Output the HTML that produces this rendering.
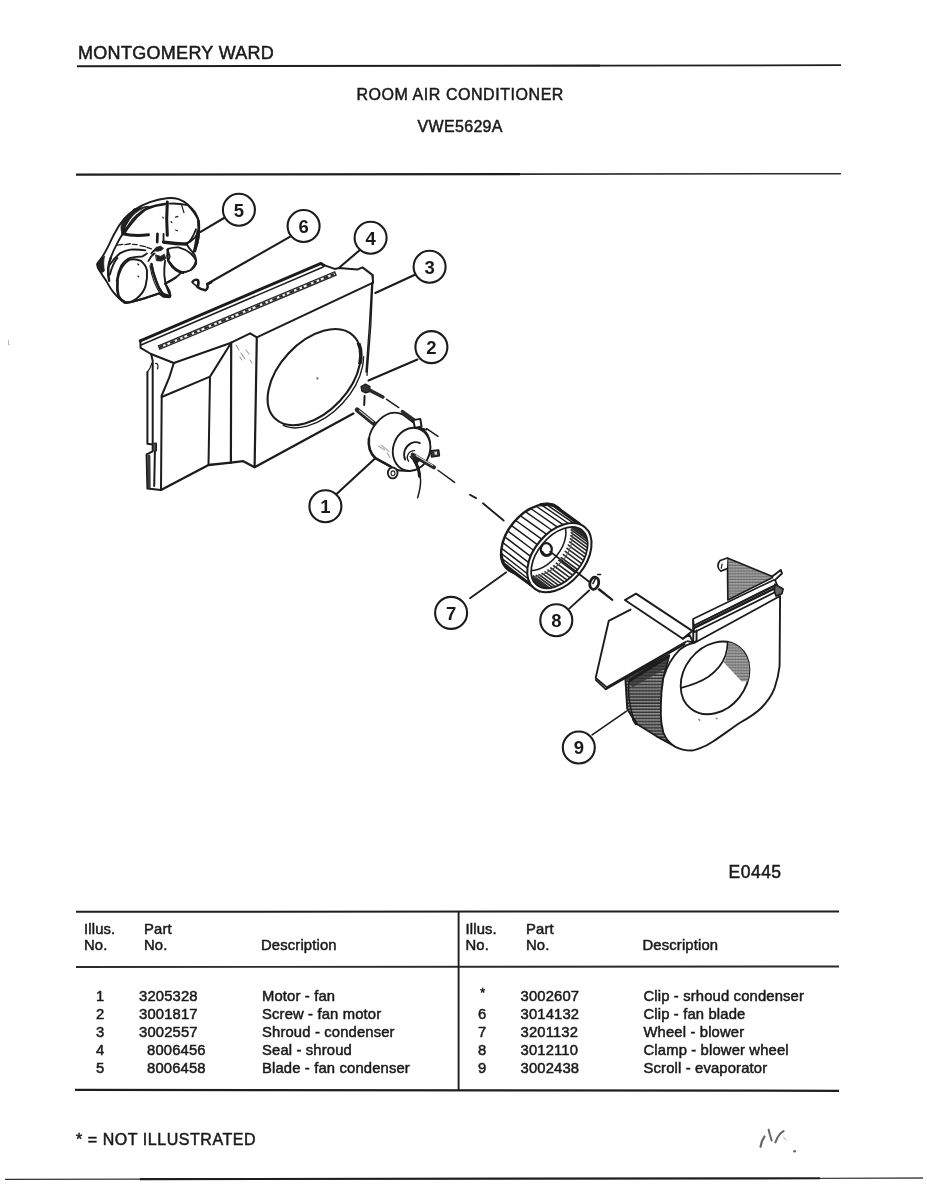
<!DOCTYPE html>
<html><head><meta charset="utf-8">
<style>
html,body{margin:0;padding:0;background:#fff;}
body{width:927px;height:1200px;position:relative;overflow:hidden;font-family:"Liberation Sans",sans-serif;color:#1a1a1a;}
.t{position:absolute;white-space:nowrap;line-height:1;letter-spacing:.15px;-webkit-text-stroke:.5px #1a1a1a;}
.hl{position:absolute;background:#222;height:2px;}
.vl{position:absolute;background:#222;width:2px;}
svg{position:absolute;left:0;top:0;filter:blur(.35px);}
.t{filter:blur(.3px);}
</style></head><body>
<!-- header -->
<div class="t" id="mw" style="left:78px;top:44px;font-size:18px;letter-spacing:.3px;">MONTGOMERY WARD</div>
<div class="t" id="rac" style="left:356.5px;top:87px;font-size:16px;letter-spacing:.55px;">ROOM AIR CONDITIONER</div>
<div class="t" id="vwe" style="left:417.5px;top:118.5px;font-size:16px;letter-spacing:.33px;">VWE5629A</div>
<!-- DIAGRAM -->
<svg id="dg" width="927" height="1200" viewBox="0 0 927 1200" fill="none" stroke="#1c1c1c" stroke-width="1.4" stroke-linecap="round" stroke-linejoin="round">

<!-- FAN (5) -->
<g id="fan" transform="translate(85,190) scale(0.151025)" stroke-width="12.5">
<path d="M620 60 C590 52 560 52 540 55 C500 60 460 70 430 80 C395 92 360 110 330 130 C305 148 280 168 260 190 C235 220 215 250 200 280 C180 315 165 350 150 380 C138 405 122 430 110 450 C98 465 85 478 80 490 C80 510 90 528 100 540 C112 560 125 580 140 600 C155 628 170 655 190 680 C210 705 235 730 260 745 C285 748 310 742 330 735 C355 730 378 722 400 715 C430 705 460 695 490 685 C505 690 518 697 530 700 L565 705 C565 692 563 680 560 670 C552 652 540 635 530 620 C555 607 580 595 600 580 C615 570 628 556 640 545 C662 545 682 540 700 530 C716 520 728 506 735 490 C738 472 735 455 730 440 C727 430 721 422 715 415 C728 395 738 372 745 350 C752 328 755 304 755 280 C757 256 757 232 755 210 C750 188 741 168 730 150 C716 130 699 111 680 95 C662 80 642 68 620 60 Z" fill="#fff"/>
<!-- ring inner arc -->
<path d="M530 90 C490 95 455 103 420 115 C390 130 363 148 340 170 C320 188 304 208 290 230 C275 250 262 270 250 290 C235 313 222 336 210 360 C194 390 180 420 170 450 C162 473 157 496 155 520 C154 548 156 575 160 600" />
<!-- left dark bump -->
<path d="M128 440 C105 455 85 475 80 492 C82 515 92 530 102 542 C112 548 122 545 128 535 C122 505 122 470 128 440Z" fill="#222" stroke-width="6"/>
<!-- ring dark thick parts -->
<path d="M330 132 C300 165 278 200 262 232 C255 250 250 270 252 288" stroke-width="22"/>
<path d="M250 290 C290 300 340 305 420 297" stroke-width="20"/>
<path d="M545 80 C540 150 540 230 545 300" stroke-width="20"/>
<path d="M520 345 C570 352 620 357 672 358" stroke-width="22"/>
<path d="M480 290 L478 345" stroke-width="18"/>
<path d="M520 290 L520 340" stroke-width="12"/>
<!-- top blade outline -->
<path d="M530 95 C480 100 440 112 400 130 C365 155 335 185 310 220 C290 243 275 265 260 290"/>
<!-- right blade -->
<path d="M560 90 C600 88 642 92 680 100 C710 130 735 163 750 200"/>
<path d="M755 280 C740 303 722 323 700 340 C688 347 674 352 660 355"/>
<path d="M735 260 C720 300 700 340 672 358 C685 380 700 400 715 415"/>
<path d="M745 270 C738 310 730 370 722 400"/>
<!-- lower right blade -->
<path d="M550 390 C572 382 596 379 620 380 C650 388 678 402 700 420 C716 434 729 450 735 470 C730 493 718 514 700 530 C682 540 662 545 640 545 C618 538 598 526 580 510 C564 492 552 472 545 450 C543 430 545 410 550 390Z" fill="#fff"/>
<path d="M560 480 C580 515 610 540 650 548" stroke-width="18"/>
<!-- hub blobs -->
<path d="M470 430 L500 440 L525 425 L535 455 L505 470 L475 468 Z" fill="#222" stroke-width="6"/>
<path d="M440 420 C455 400 475 385 500 380"/>
<path d="M420 470 C430 445 445 430 460 420"/>
<!-- lower-left blade ellipse -->
<path d="M240 520 C255 495 275 472 300 460 C325 455 350 460 370 470 C390 485 404 506 410 530 C414 568 410 605 400 640 C388 672 367 700 340 720 C320 735 296 745 270 745 C248 735 230 720 220 700 C212 668 211 634 215 600 C220 572 228 545 240 520Z" fill="#fff" stroke-width="13"/>
<!-- arcs around lower-left blade -->
<path d="M160 500 C180 470 203 442 230 420 C252 408 275 398 300 395 C333 393 367 395 400 400"/>
<path d="M210 600 C215 565 225 530 240 500 C256 478 276 460 300 450 C327 443 354 440 380 440 C392 435 402 428 410 420"/>
<path d="M165 560 C175 520 190 480 215 450" />
<path d="M215 365 L250 360 M265 362 L300 356 M315 360 L345 362 M365 368 L400 375 M410 380 L440 390" stroke-width="9"/>
<!-- bottom thin blade -->
<path d="M440 490 C446 528 456 565 470 600 C480 630 493 657 510 680 C525 690 542 697 560 700"/>
<path d="M530 470 C526 500 524 530 525 560 C527 588 532 615 540 640 C547 661 555 681 565 700"/>
<path d="M500 690 L520 705 L560 708" stroke-width="16"/>
<path d="M430 500 C440 560 460 630 495 680" stroke-width="8"/>
<path d="M640 100 L655 150 M600 180 L615 175 M600 265 L612 270 M570 210 L575 215 M350 490 L355 495 M350 570 L356 575 M515 180 L518 186" stroke-width="8"/>
<!-- extra darkness -->
<path d="M332 128 C300 150 275 175 255 200 C240 222 232 250 245 285 C262 245 285 205 315 170 C340 145 375 122 420 108 C390 112 358 118 332 128Z" fill="#222" stroke-width="6"/>
<path d="M750 205 C757 260 752 330 728 405" stroke-width="17"/>
<path d="M160 600 C150 560 150 500 170 450" stroke-width="15"/>
<path d="M440 490 C446 528 456 565 470 600 C480 630 493 657 510 680" stroke-width="16"/>
<path d="M455 400 L470 380 L500 372 L520 385 L505 400 L480 405Z" fill="#222" stroke-width="5"/>
<path d="M545 395 L560 440 L550 470" stroke-width="14"/>
<path d="M215 600 C212 640 214 672 222 702 C232 722 250 738 270 746" stroke-width="17"/>
<path d="M260 745 C285 748 310 742 330 735 C355 730 378 722 400 715 C430 705 460 695 490 685" stroke-width="14"/>
<path d="M530 620 C555 607 580 595 600 580" stroke-width="14"/>
<!-- clip 6 -->
<path d="M712 608 C720 595 738 590 748 598 C754 612 752 628 745 642 C760 654 780 662 798 664 C810 656 815 640 810 626 C818 618 828 614 835 612" stroke-width="17"/>
<path d="M742 640 C735 632 725 625 712 615" stroke-width="10"/>
</g>

<!-- SHROUD (3) -->
<g id="shroud" stroke-width="2">
<!-- top flange outer -->
<path d="M140.3 340.8 L321 263.4 L324 265.5" stroke-width="3"/><path d="M141 345 L323.2 267" stroke-width="1.5"/>
<path d="M140.3 340.4 L140.6 347.9 L151 354 L173.8 363"/>
<!-- seal strip 4 -->
<path d="M158.5 347.8 L336 273.2" stroke="#262626" stroke-width="5" stroke-linecap="butt"/>
<path d="M160 347.2 L334.5 273.8" stroke="#f4f4f4" stroke-width="2.2" stroke-linecap="butt"/>
<path d="M160 347.2 L334.5 273.8" stroke="#2a2a2a" stroke-width="2.2" stroke-dasharray="3.5 2.5 2 3 5 2.5" stroke-linecap="butt"/>
<!-- top right of flange -->
<path d="M324 265.1 L334.6 268.9 L339.1 268.1 L357.2 269.6 L362.5 267.4 L372.3 274.9 L373.1 282.5"/>
<!-- flange front bottom edge -->
<path d="M173.8 363 L231.2 342.7 L250.1 333.3 L256.8 337.3 L372.6 282.9"/>
<!-- right edge double -->
<path d="M373.1 275 L370.8 325.5 L367 375.4 M371.8 283 L369.4 325 L366 372" stroke-width="1.3"/>
<path d="M364.6 396 L364.2 405" />
<!-- left panel -->
<path d="M173.8 363 L169.3 377.4 L161.7 395.5 L161 489.9"/>
<path d="M161.7 397 L210 376.6 L231.2 342.7 M210 376.6 L208.5 465"/>
<path d="M231.2 342.7 L230.9 462.7 M256.8 337.3 L254.6 467.2" stroke-width="2.2"/>
<path d="M161 489.9 L208.5 465 L230.9 462.7 L243.3 461.2 L254.6 467.2 L353.4 413.6" stroke-width="2.3"/>
<!-- bracket -->
<path d="M147.4 372.1 L147.4 443.8 L152.7 444.6 L152.7 451.4 L146.6 454.4 L147.4 488.4 L161 489.9"/>
<path d="M151.1 354 L152.7 360.8 L152.7 443.8 M154.9 451.4 L154.2 486.1"/>
<path d="M147.4 372.1 L150 368 L152 363" stroke-width="1.2"/>
<path d="M155.5 363.5 C158 363 158.5 366 157.5 369" stroke-width="1.2"/>
<path d="M154.5 443 L156.5 443 L156.5 451 L154.5 451Z" fill="#333" stroke-width="1"/>
<path d="M148.9 456 L149.2 487" stroke-width="3" stroke="#3a3a3a"/>
<!-- opening ellipse -->
<ellipse cx="314.2" cy="377.1" rx="57" ry="35" transform="rotate(-47 314.2 377.1)" stroke-width="2.1"/>
<clipPath id="cpE"><path d="M366 354 L385 354 L385 440 L270 440 L284 424 Z"/></clipPath><g clip-path="url(#cpE)"><ellipse cx="316.4" cy="379.3" rx="57.5" ry="35.5" transform="rotate(-47 316.4 379.3)" stroke-width="1.4"/></g>
<clipPath id="cpE2"><rect x="352" y="343" width="14" height="21"/></clipPath><g clip-path="url(#cpE2)"><ellipse cx="314.2" cy="377.1" rx="57" ry="35" transform="rotate(-47 314.2 377.1)" stroke-width="3.6"/></g>
<circle cx="317.4" cy="378.4" r="1.1" fill="#666" stroke="none"/>
<!-- texture on column -->
<path d="M236 345 l3 5 m2 3 l4 6 m-5 -2 l2 3 m4 -10 l3 4 m1 6 l2 3" stroke="#888" stroke-width="1"/>
</g>

<!-- MOTOR (1) + SCREW (2) -->
<g id="motor" transform="translate(330,360) scale(0.151025)" stroke-width="12.5">
<!-- screw -->
<path d="M205 175 L235 160 L265 175 L262 210 L235 218 L210 205Z" fill="#333" stroke-width="8"/>
<path d="M262 200 L350 245" stroke-width="24" stroke="#2a2a2a"/>
<!-- dash axis -->
<path d="M375 260 L455 315 M640 455 L715 505 M715 730 L825 810" stroke-width="10"/>
<!-- rear shaft -->
<path d="M180 330 L290 420" stroke-width="32" stroke="#2a2a2a" stroke-linecap="round"/>
<path d="M195 335 L285 408" stroke-width="7" stroke="#ddd"/>
<!-- body -->
<path d="M400 352 C340 370 270 440 258 520 C250 580 270 620 300 650 L430 722 C500 750 600 730 650 640 C680 560 660 480 600 450 L480 360 C455 348 425 346 400 352Z" fill="#fff" stroke-width="12"/>
<ellipse cx="540" cy="592" rx="122" ry="145" transform="rotate(18 540 592)" fill="#fff"/>
<path d="M258 520 C250 580 270 620 300 650 L400 705" stroke-width="17"/>
<!-- hub -->
<path d="M498 660 C480 620 495 575 535 552 C555 542 578 542 595 550" stroke-width="12"/>
<path d="M520 670 C500 640 520 600 560 600" stroke-width="9"/>
<!-- front shaft -->
<path d="M548 628 L688 710" stroke-width="28" stroke="#2a2a2a"/>
<path d="M570 632 L680 698" stroke-width="7" stroke="#ddd"/>
<path d="M530 640 L570 690 L600 660 Z" fill="#222" stroke-width="6"/>
<!-- wire -->
<path d="M560 670 C585 700 598 750 600 800 C600 840 590 880 580 912" stroke-width="10"/>
<path d="M560 670 C580 700 590 730 593 770" stroke-width="20"/>
<!-- bracket tabs -->
<path d="M480 342 L560 400" stroke-width="24" stroke="#2a2a2a"/>
<path d="M552 398 L598 390 L606 440 L562 450Z" stroke-width="13" fill="#fff"/>
<path d="M665 600 L720 595 L725 635 L672 642Z" fill="#333" stroke-width="9"/>
<path d="M690 608 L708 606 L710 626 L694 628Z" fill="#ddd" stroke="none"/>
<ellipse cx="415" cy="748" rx="32" ry="36" stroke-width="12" fill="#fff"/>
<ellipse cx="417" cy="750" rx="13" ry="16" stroke-width="7"/>
<path d="M600 450 L640 462" stroke-width="10"/>
<path d="M320 570 l40 25 m-20 -30 l50 40 m-10 10 l15 30" stroke="#aaa" stroke-width="8"/>
<!-- shroud dashed vertical is in shroud group -->
</g>


<!-- BLOWER WHEEL (7) + CLAMP (8) -->
<g id="wheel" transform="translate(470,480) scale(0.1726)" stroke-width="10.5">
<path d="M0 85 L35 105 M75 135 L195 235 M745 635 L825 695" stroke-width="10.5"/>
<path d="M483 146 L634 256 L402 644 L251 534Z" fill="#fff" stroke-width="12"/>
<ellipse cx="367" cy="340" rx="230" ry="148" transform="rotate(-50 367 340)" fill="#fff" stroke-width="14"/>
<path d="M483 146 L634 256 L402 644 L251 534Z" fill="#fff" stroke="none"/>
<path d="M236 520 L383 635 M216 504 L363 619 M201 484 L347 598 M191 459 L337 572 M187 430 L332 543 M187 399 L333 511 M194 366 L339 477 M205 332 L351 442 M222 298 L368 407 M243 266 L390 374 M267 236 L415 343 M295 209 L444 315 M325 186 L475 291 M356 168 L507 273 M388 155 L539 259 M418 147 L571 252 M448 146 L601 250 " stroke-width="8.5"/>
<path d="M411 143 L450 140 L483 146 L634 256" stroke-width="20"/>
<path d="M251 534 L402 644" stroke-width="16"/>
<path d="M181 430 L185 459 L195 486 L210 507 L230 524 L251 534" stroke-width="18"/>
<ellipse cx="518" cy="450" rx="230" ry="148" transform="rotate(-50 518 450)" fill="#fff" stroke-width="12"/>
<clipPath id="cpW"><ellipse cx="518" cy="450" rx="206" ry="126" transform="rotate(-50 518 450)"/></clipPath>
<g clip-path="url(#cpW)">
<path d="M557 277 L462 207 M574 274 L479 204 M590 273 L495 203 M605 273 L510 203 M619 276 L524 206 M632 281 L537 211 M643 287 L548 217 M654 295 L559 225 M663 305 L568 235 M670 316 L575 246 M675 329 L580 259 M679 344 L584 274 M681 359 L586 289 M682 376 L587 306 M680 393 L585 323 M677 411 L582 341 M672 429 L577 359 M665 447 L570 377 M657 466 L562 396 M647 484 L552 414 M636 502 L541 432 M624 520 L529 450 M610 536 L515 466 M595 552 L500 482 M580 567 L485 497 M563 580 L468 510 M547 592 L452 522 M530 602 L435 532 M513 611 L418 541 M495 618 L400 548 M479 623 L384 553 M462 626 L367 556 M446 627 L351 557 M431 627 L336 557 M417 624 L322 554 M404 619 L309 549 M393 613 L298 543 " stroke-width="9.5" stroke="#2a2a2a"/>
<ellipse cx="420" cy="378" rx="172" ry="102" transform="rotate(-50 420 378)" fill="#fff" stroke-width="9"/>
<path d="M370 565 C430 550 500 515 555 445 C585 400 598 345 592 285" stroke-width="6" stroke="#555"/>
</g>
<ellipse cx="518" cy="450" rx="206" ry="126" transform="rotate(-50 518 450)" stroke-width="10"/>
<!-- hub -->
<ellipse cx="442" cy="402" rx="32" ry="36" stroke-width="13"/>
<path d="M418 418 C428 442 455 442 470 425" stroke-width="16"/>
<path d="M465 415 L690 590" stroke-width="10.5"/>
<!-- clamp -->
<ellipse cx="720" cy="598" rx="25" ry="36" transform="rotate(15 720 598)" stroke-width="16" fill="#fff"/>
<path d="M700 585 L715 560 M712 600 L728 570 M740 548 L757 548" stroke-width="9"/>
<path d="M690 640 L575 745" stroke-width="10.5"/>
<path d="M210 535 L0 685" stroke-width="10.5"/>
</g>

<defs>
<pattern id="hz" width="13" height="13" patternUnits="userSpaceOnUse"><rect width="13" height="13" fill="#b4b4b4"/><path d="M0 3.5H13" stroke="#2e2e2e" stroke-width="6"/><path d="M3 10h3M9 9v3" stroke="#555" stroke-width="2.5"/></pattern>
<pattern id="hz2" width="12" height="12" patternUnits="userSpaceOnUse"><rect width="12" height="12" fill="#cfcfcf"/><path d="M0 3H12" stroke="#5a5a5a" stroke-width="4.5"/><path d="M2 9h3M8 8v3" stroke="#777" stroke-width="2.5"/></pattern>
</defs>

<!-- SCROLL (9) -->
<g id="scroll" transform="translate(585,545) scale(0.237325)" stroke-width="8">
<!-- back triangle -->
<path d="M600 55 L602 232 L795 135 Z" fill="url(#hz2)" stroke-width="7"/>
<path d="M600 55 L570 65 C555 80 558 100 572 110 L598 100" stroke-width="7" fill="#fff"/>
<path d="M578 80 L574 98" stroke-width="5"/>
<!-- housing side (dark hatched) -->
<path d="M170 560 L355 465 L330 560 L320 700 L330 790 L385 852 L300 805 L215 752 L178 690 Z" fill="url(#hz)" stroke-width="8"/>
<path d="M172 562 L350 470 L340 520 L200 600 Z" fill="#333" stroke="none" opacity=".75"/>
<path d="M185 575 C180 620 185 670 205 735" stroke-width="6"/>
<path d="M215 752 L205 735" stroke-width="14"/>
<!-- housing front face -->
<path d="M462 412 L822 215 L820 510 C816 545 808 575 799 602 C785 640 762 668 737 692 C712 715 683 732 653 749 C615 775 578 802 541 827 C522 840 503 850 485 856 C470 862 460 866 450 866 C420 866 398 860 380 850 C356 836 340 815 330 790 C322 760 318 730 320 700 C318 655 322 608 330 560 C345 510 370 470 400 440 C420 425 440 415 462 412Z" fill="#fff" stroke-width="8"/>
<!-- opening -->
<ellipse cx="548" cy="560" rx="165" ry="131" transform="rotate(-52 548 560)" fill="#fff" stroke-width="8"/>
<clipPath id="cpS"><ellipse cx="548" cy="560" rx="165" ry="131" transform="rotate(-52 548 560)"/></clipPath>
<g clip-path="url(#cpS)">
<path d="M600 400 C605 440 598 470 585 495 L660 575 L720 570 L720 400Z" fill="url(#hz2)" stroke="none"/>
<path d="M405 602 C450 590 490 575 520 555 C555 530 580 500 592 465 C598 445 602 425 600 405" stroke-width="7"/>
</g>
<!-- top flange strip -->
<path d="M455 312 L800 145 L808 165 L458 340Z" fill="#fff" stroke-width="7"/>
<path d="M458 340 L810 168 L815 192 L460 368Z" fill="#fff" stroke-width="7"/>
<path d="M456 318 L456 410 L470 405 L470 360" stroke-width="8"/>
<path d="M458 350 L805 180" stroke-width="10"/>
<path d="M790 132 L825 105 L830 120 L800 148" stroke-width="8" fill="#fff"/>
<path d="M800 165 L835 185 L830 205 L805 215 L798 195Z" fill="#666" stroke-width="7"/>
<!-- strip -->
<path d="M168 232 L215 205 L452 362 L412 395 Z" fill="#fff" stroke-width="8"/>
<path d="M412 395 L440 378 L455 410 L432 405" stroke-width="8"/>
<!-- plate -->
<path d="M192 272 L100 320 L45 560 L92 600 L425 408" stroke-width="8"/>
<path d="M45 568 L88 608 L420 418" stroke-width="7"/>
<path d="M190 570 L350 470" stroke-width="12"/>
<!-- leader 9 -->
<path d="M175 700 L30 800" stroke-width="7"/>
<!-- axis dash -->
<path d="M60 185 L115 230" stroke-width="7"/>
<path d="M480 735 l3 3 m70 -8 l3 2" stroke-width="6" stroke="#777"/>
</g>
<!-- CALLOUTS -->
<g id="callouts" stroke-width="2.1">
<path d="M224 218 L200.6 231.9"/>
<path d="M289.8 236.9 L207 284"/>
<path d="M359.9 250 L339.4 267.5"/>
<path d="M416 274.2 L375.3 293"/>
<path d="M417.4 359.5 L368.5 380.5"/>
<path d="M336 494.5 L375.3 458.2"/>
<circle cx="238.9" cy="209.8" r="16" fill="#fff"/>
<circle cx="303.6" cy="226.0" r="16" fill="#fff"/>
<circle cx="370.6" cy="237.8" r="16" fill="#fff"/>
<circle cx="429.6" cy="266.7" r="16" fill="#fff"/>
<circle cx="431.4" cy="347.1" r="16" fill="#fff"/>
<circle cx="325.4" cy="506.3" r="16" fill="#fff"/>
<circle cx="451.1" cy="612.9" r="16" fill="#fff"/>
<circle cx="556.3" cy="620.3" r="16" fill="#fff"/>
<circle cx="578.8" cy="747.5" r="16" fill="#fff"/>
</g>
<g id="cnums" stroke="none" fill="#1a1a1a" font-family="Liberation Sans, sans-serif" font-weight="bold" font-size="18.5" text-anchor="middle">
<text x="238.9" y="216.6">5</text>
<text x="303.6" y="232.8">6</text>
<text x="370.6" y="244.6">4</text>
<text x="429.6" y="273.5">3</text>
<text x="431.4" y="353.9">2</text>
<text x="325.4" y="513.1">1</text>
<text x="451.1" y="619.7">7</text>
<text x="556.3" y="627.1">8</text>
<text x="578.8" y="754.3">9</text>
</g>

<!-- RULES -->
<g id="rules" stroke="#1e1e1e" stroke-linecap="butt">
<path d="M77 66.3 L600 65.6" stroke-width="2.1"/><path d="M600 65.6 L841 65.2" stroke-width="1.8"/>
<path d="M76 174.7 L520 174.1" stroke-width="2.2"/><path d="M520 174.1 L841 173.7" stroke-width="1.6" stroke="#2c2c2c"/>
<path d="M76 911.8 L839 911.4" stroke-width="2"/>
<path d="M76 967 L839 966.5" stroke-width="1.9" stroke="#2a2a2a"/>
<path d="M75 1089.8 L839 1090.8" stroke-width="2.2"/>
<path d="M458.6 911 L458.6 1090.5" stroke-width="1.9"/>
<path d="M5 1179.4 L140 1179.1" stroke-width="1.2" stroke="#333"/><path d="M140 1179.1 L820 1178.3" stroke-width="2.1"/><path d="M820 1178.3 L923 1178" stroke-width="1.3" stroke="#444"/>
</g>
<!-- scan marks -->
<g id="marks" stroke="#4a4a4a" stroke-width="1.8" opacity=".85">
<path d="M760.5 1146.7 L762 1141 L764.5 1136.5" stroke-width="2.2"/>
<path d="M768.6 1129.6 L770 1135 L771.6 1140.5" stroke-width="2"/>
<path d="M775.4 1142.4 L777.5 1137.5 L780.5 1133.4 L783.7 1131" stroke-width="2"/>
<path d="M783.5 1137 L786 1140" stroke-width="1" stroke="#999"/>
<circle cx="794.6" cy="1151.2" r="1.3" fill="#444" stroke="none"/>
<path d="M8.5 340.5 L8.5 344.5 L9.5 344.5" stroke="#aab0aa" stroke-width="1"/>
</g>
</svg>
<!-- TABLE -->
<div class="t" id="e0445" style="left:728.5px;top:864.2px;font-size:17.5px;letter-spacing:.5px;">E0445</div>
<div class="t " style="left:84px;top:921.67px;font-size:14.8px;">Illus.</div>
<div class="t " style="left:84px;top:937.67px;font-size:14.8px;">No.</div>
<div class="t " style="left:144px;top:921.67px;font-size:14.8px;">Part</div>
<div class="t " style="left:144px;top:937.67px;font-size:14.8px;">No.</div>
<div class="t " style="left:261px;top:937.67px;font-size:14.8px;">Description</div>
<div class="t " style="left:465.5px;top:921.67px;font-size:14.8px;">Illus.</div>
<div class="t " style="left:465.5px;top:937.67px;font-size:14.8px;">No.</div>
<div class="t " style="left:526px;top:921.67px;font-size:14.8px;">Part</div>
<div class="t " style="left:526px;top:937.67px;font-size:14.8px;">No.</div>
<div class="t " style="left:642.5px;top:937.67px;font-size:14.8px;">Description</div>
<div class="t " style="left:96px;top:989.17px;font-size:14.8px;">1</div>
<div class="t " style="left:139px;top:989.17px;font-size:14.8px;">3205328</div>
<div class="t " style="left:262px;top:989.17px;font-size:14.8px;">Motor - fan</div>
<div class="t " style="left:96px;top:1007.17px;font-size:14.8px;">2</div>
<div class="t " style="left:139px;top:1007.17px;font-size:14.8px;">3001817</div>
<div class="t " style="left:262px;top:1007.17px;font-size:14.8px;">Screw - fan motor</div>
<div class="t " style="left:96px;top:1025.17px;font-size:14.8px;">3</div>
<div class="t " style="left:139px;top:1025.17px;font-size:14.8px;">3002557</div>
<div class="t " style="left:262px;top:1025.17px;font-size:14.8px;">Shroud - condenser</div>
<div class="t " style="left:96px;top:1043.17px;font-size:14.8px;">4</div>
<div class="t " style="left:147px;top:1043.17px;font-size:14.8px;">8006456</div>
<div class="t " style="left:262px;top:1043.17px;font-size:14.8px;">Seal - shroud</div>
<div class="t " style="left:96px;top:1061.17px;font-size:14.8px;">5</div>
<div class="t " style="left:147px;top:1061.17px;font-size:14.8px;">8006458</div>
<div class="t " style="left:262px;top:1061.17px;font-size:14.8px;">Blade - fan condenser</div>
<div class="t " style="left:480.3px;top:986.5px;font-size:12.5px;">*</div>
<div class="t " style="left:520.5px;top:989.17px;font-size:14.8px;">3002607</div>
<div class="t " style="left:643.5px;top:989.17px;font-size:14.8px;">Clip - srhoud condenser</div>
<div class="t " style="left:478px;top:1007.17px;font-size:14.8px;">6</div>
<div class="t " style="left:520.5px;top:1007.17px;font-size:14.8px;">3014132</div>
<div class="t " style="left:643.5px;top:1007.17px;font-size:14.8px;">Clip - fan blade</div>
<div class="t " style="left:478px;top:1025.17px;font-size:14.8px;">7</div>
<div class="t " style="left:520.5px;top:1025.17px;font-size:14.8px;">3201132</div>
<div class="t " style="left:643.5px;top:1025.17px;font-size:14.8px;">Wheel - blower</div>
<div class="t " style="left:478px;top:1043.17px;font-size:14.8px;">8</div>
<div class="t " style="left:520.5px;top:1043.17px;font-size:14.8px;">3012110</div>
<div class="t " style="left:643.5px;top:1043.17px;font-size:14.8px;">Clamp - blower wheel</div>
<div class="t " style="left:478px;top:1061.17px;font-size:14.8px;">9</div>
<div class="t " style="left:520.5px;top:1061.17px;font-size:14.8px;">3002438</div>
<div class="t " style="left:643.5px;top:1061.17px;font-size:14.8px;">Scroll - evaporator</div>
<div class="t " style="left:76px;top:1131.66px;font-size:16px;letter-spacing:.55px;">* = NOT ILLUSTRATED</div>
</body></html>
